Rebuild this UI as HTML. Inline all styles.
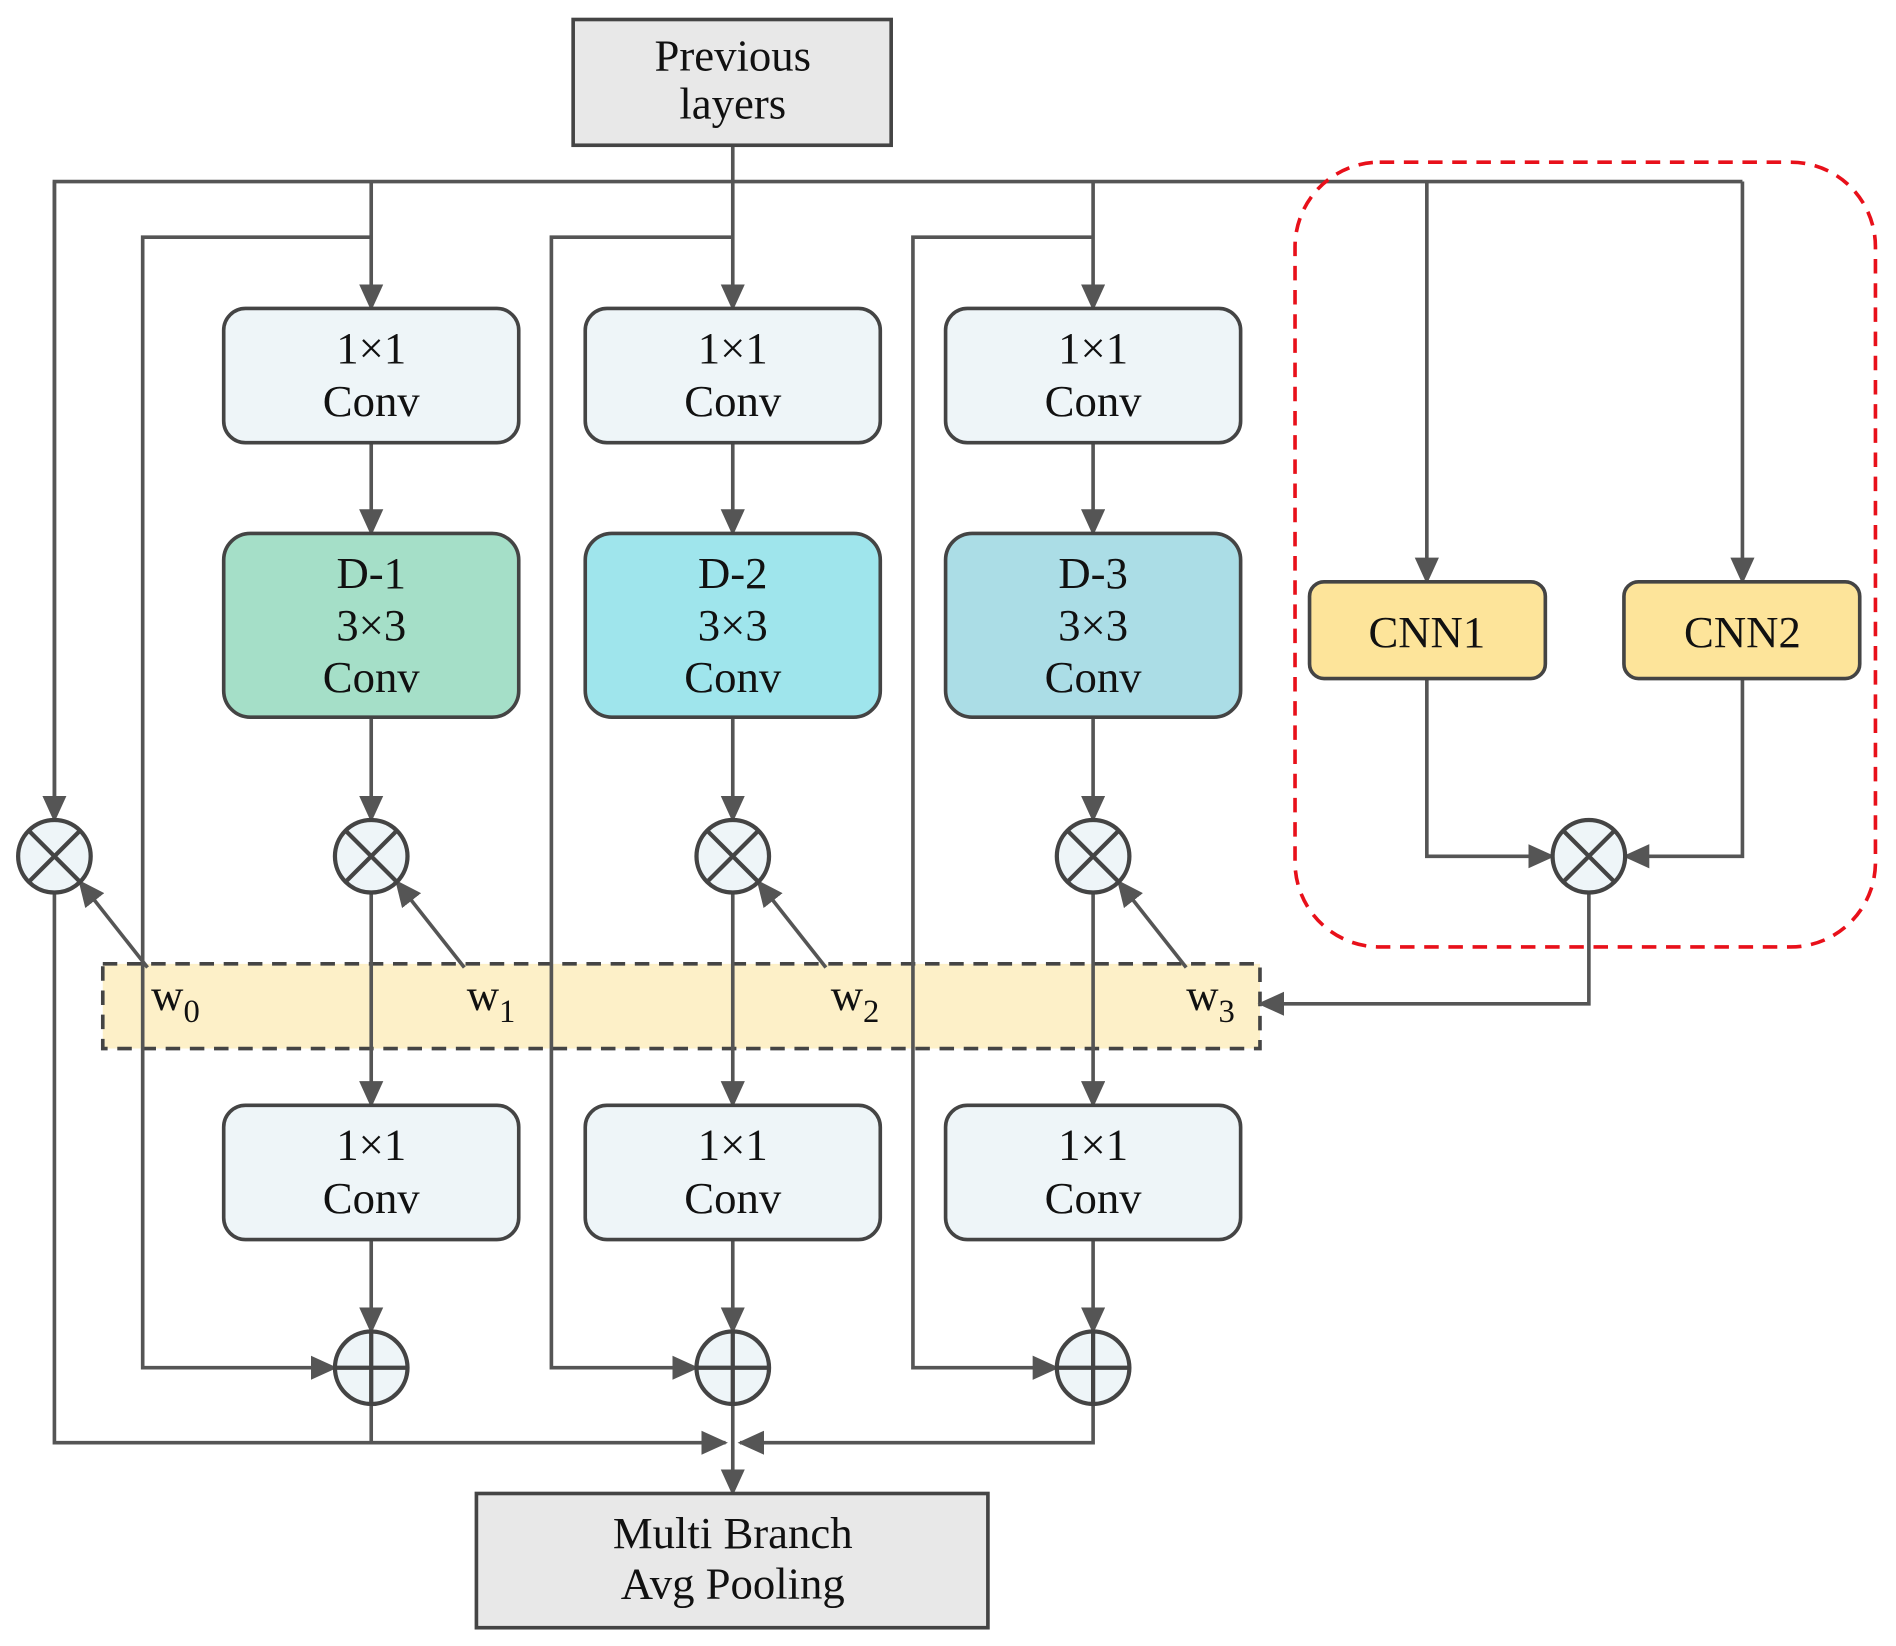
<!DOCTYPE html>
<html><head><meta charset="utf-8"><style>html,body{margin:0;padding:0;background:#fff}svg{display:block}</style></head>
<body>
<svg width="1896" height="1646" viewBox="0 0 1568 1361" xmlns="http://www.w3.org/2000/svg" font-family="Liberation Serif, serif" font-size="37">
<defs>
<marker id="b" markerWidth="22" markerHeight="20" refX="20" refY="10" orient="auto" markerUnits="userSpaceOnUse"><path d="M0,0 L22,10 L0,20 z" fill="#555"/></marker>
</defs>
<!-- weight band -->
<rect x="85" y="797" width="957" height="70" fill="#fdf0c8" stroke="#444" stroke-width="3" stroke-dasharray="12,8"/>
<g stroke="#555" stroke-width="3" fill="none">
<line x1="606" y1="120" x2="606" y2="150"/>
<polyline points="45,678 45,150 1441,150"/>
<line x1="45" y1="150" x2="45" y2="678" marker-end="url(#b)"/>
<line x1="307" y1="150" x2="307" y2="255" marker-end="url(#b)"/>
<line x1="606" y1="150" x2="606" y2="255" marker-end="url(#b)"/>
<line x1="904" y1="150" x2="904" y2="255" marker-end="url(#b)"/>
<line x1="1180" y1="150" x2="1180" y2="481" marker-end="url(#b)"/>
<line x1="1441" y1="150" x2="1441" y2="481" marker-end="url(#b)"/>
<polyline points="307,196 118,196 118,1131 277,1131" marker-end="url(#b)"/>
<polyline points="606,196 456,196 456,1131 576,1131" marker-end="url(#b)"/>
<polyline points="904,196 755,196 755,1131 874,1131" marker-end="url(#b)"/>
<line x1="307" y1="366" x2="307" y2="441" marker-end="url(#b)"/>
<line x1="606" y1="366" x2="606" y2="441" marker-end="url(#b)"/>
<line x1="904" y1="366" x2="904" y2="441" marker-end="url(#b)"/>
<line x1="307" y1="593" x2="307" y2="678" marker-end="url(#b)"/>
<line x1="606" y1="593" x2="606" y2="678" marker-end="url(#b)"/>
<line x1="904" y1="593" x2="904" y2="678" marker-end="url(#b)"/>
<line x1="307" y1="738" x2="307" y2="914" marker-end="url(#b)"/>
<line x1="606" y1="738" x2="606" y2="914" marker-end="url(#b)"/>
<line x1="904" y1="738" x2="904" y2="914" marker-end="url(#b)"/>
<line x1="122" y1="800" x2="66" y2="729" marker-end="url(#b)"/>
<line x1="384" y1="800" x2="328" y2="729" marker-end="url(#b)"/>
<line x1="683" y1="800" x2="627" y2="729" marker-end="url(#b)"/>
<line x1="981" y1="800" x2="925" y2="729" marker-end="url(#b)"/>
<line x1="307" y1="1025" x2="307" y2="1101" marker-end="url(#b)"/>
<line x1="606" y1="1025" x2="606" y2="1101" marker-end="url(#b)"/>
<line x1="904" y1="1025" x2="904" y2="1101" marker-end="url(#b)"/>
<polyline points="45,738 45,1193 600,1193" marker-end="url(#b)"/>
<line x1="307" y1="1161" x2="307" y2="1193"/>
<polyline points="904,1161 904,1193 612,1193" marker-end="url(#b)"/>
<line x1="606" y1="1161" x2="606" y2="1235" marker-end="url(#b)"/>
<polyline points="1180,561 1180,708 1284,708" marker-end="url(#b)"/>
<polyline points="1441,561 1441,708 1344,708" marker-end="url(#b)"/>
<polyline points="1314,738 1314,830 1042,830" marker-end="url(#b)"/>
</g>
<rect x="1071" y="134" width="480" height="649" rx="70" fill="none" stroke="#e8101a" stroke-width="3" stroke-dasharray="12,8"/>
<g stroke="#444" stroke-width="3">
<rect x="474" y="16" width="263" height="104" fill="#e8e8e8"/>
<rect x="394" y="1235" width="423" height="111" fill="#e8e8e8"/>
<rect x="185" y="255" width="244" height="111" rx="18" fill="#eef5f8"/>
<rect x="484" y="255" width="244" height="111" rx="18" fill="#eef5f8"/>
<rect x="782" y="255" width="244" height="111" rx="18" fill="#eef5f8"/>
<rect x="185" y="441" width="244" height="152" rx="22" fill="#a5dfc8"/>
<rect x="484" y="441" width="244" height="152" rx="22" fill="#9fe5ec"/>
<rect x="782" y="441" width="244" height="152" rx="22" fill="#abdde6"/>
<rect x="185" y="914" width="244" height="111" rx="18" fill="#eef5f8"/>
<rect x="484" y="914" width="244" height="111" rx="18" fill="#eef5f8"/>
<rect x="782" y="914" width="244" height="111" rx="18" fill="#eef5f8"/>
<rect x="1083" y="481" width="195" height="80" rx="12" fill="#fde49a"/>
<rect x="1343" y="481" width="195" height="80" rx="12" fill="#fde49a"/>
</g>
<g stroke="#444" stroke-width="3.5" fill="#eef5f8">
<g transform="translate(45,708)"><circle r="30"/><path d="M-21,-21 L21,21 M21,-21 L-21,21"/></g>
<g transform="translate(307,708)"><circle r="30"/><path d="M-21,-21 L21,21 M21,-21 L-21,21"/></g>
<g transform="translate(606,708)"><circle r="30"/><path d="M-21,-21 L21,21 M21,-21 L-21,21"/></g>
<g transform="translate(904,708)"><circle r="30"/><path d="M-21,-21 L21,21 M21,-21 L-21,21"/></g>
<g transform="translate(1314,708)"><circle r="30"/><path d="M-21,-21 L21,21 M21,-21 L-21,21"/></g>
<g transform="translate(307,1131)"><circle r="30"/><path d="M-30,0 L30,0 M0,-30 L0,30"/></g>
<g transform="translate(606,1131)"><circle r="30"/><path d="M-30,0 L30,0 M0,-30 L0,30"/></g>
<g transform="translate(904,1131)"><circle r="30"/><path d="M-30,0 L30,0 M0,-30 L0,30"/></g>
</g>
<g fill="#111" text-anchor="middle">
<text x="606" y="58">Previous</text><text x="606" y="98">layers</text>
<text x="307" y="300">1×1</text><text x="307" y="344">Conv</text>
<text x="606" y="300">1×1</text><text x="606" y="344">Conv</text>
<text x="904" y="300">1×1</text><text x="904" y="344">Conv</text>
<text x="307" y="486">D-1</text><text x="307" y="529">3×3</text><text x="307" y="572">Conv</text>
<text x="606" y="486">D-2</text><text x="606" y="529">3×3</text><text x="606" y="572">Conv</text>
<text x="904" y="486">D-3</text><text x="904" y="529">3×3</text><text x="904" y="572">Conv</text>
<text x="307" y="959">1×1</text><text x="307" y="1003">Conv</text>
<text x="606" y="959">1×1</text><text x="606" y="1003">Conv</text>
<text x="904" y="959">1×1</text><text x="904" y="1003">Conv</text>
<text x="1180" y="535">CNN1</text><text x="1441" y="535">CNN2</text>
<text x="606" y="1280">Multi Branch</text><text x="606" y="1322">Avg Pooling</text>
</g>
<g fill="#111">
<text x="125" y="835">w<tspan font-size="27" dy="10">0</tspan></text>
<text x="386" y="835">w<tspan font-size="27" dy="10">1</tspan></text>
<text x="687" y="835">w<tspan font-size="27" dy="10">2</tspan></text>
<text x="981" y="835">w<tspan font-size="27" dy="10">3</tspan></text>
</g>
</svg>
</body></html>
